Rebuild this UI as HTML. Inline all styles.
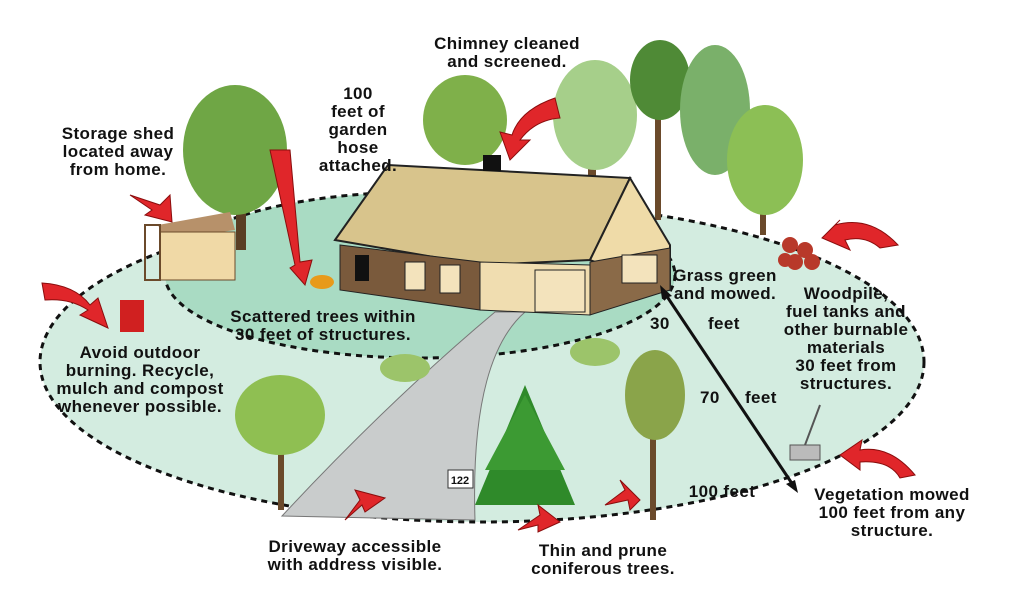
<!DOCTYPE html>
<html><head><meta charset="utf-8"><style>
body{margin:0;background:#fff}
svg{display:block}
text{font-family:"Liberation Sans",sans-serif;font-weight:bold;font-size:17px;letter-spacing:0.4px;fill:#111}
</style></head><body>
<svg width="1024" height="615" viewBox="0 0 1024 615">
<ellipse cx="482" cy="362" rx="442" ry="160" fill="#d3ece0" stroke="#111" stroke-width="3" stroke-dasharray="6,5"/>
<ellipse cx="420" cy="275" rx="255" ry="83" fill="#a9dbc3" stroke="#111" stroke-width="3" stroke-dasharray="6,5"/>
<path d="M495 312 L525 312 Q470 360 475 520 L282 516 Q390 400 495 312Z" fill="#c9cccc" stroke="#777" stroke-width="1"/>
<g>
<rect x="467" y="110" width="8" height="50" fill="#6b4a2b"/>
<ellipse cx="465" cy="120" rx="42" ry="45" fill="#7fb04a"/>
<rect x="588" y="100" width="8" height="80" fill="#6b4a2b"/>
<ellipse cx="595" cy="115" rx="42" ry="55" fill="#a6cf8a"/>
<rect x="655" y="60" width="6" height="160" fill="#6b4a2b"/>
<ellipse cx="660" cy="80" rx="30" ry="40" fill="#4f8a36"/>
<ellipse cx="715" cy="110" rx="35" ry="65" fill="#7ab06a"/>
<rect x="760" y="140" width="6" height="95" fill="#6b4a2b"/>
<ellipse cx="765" cy="160" rx="38" ry="55" fill="#8cbf55"/>
<rect x="236" y="150" width="10" height="100" fill="#5a3e24"/>
<ellipse cx="235" cy="150" rx="52" ry="65" fill="#6fa645"/>
<rect x="650" y="380" width="6" height="140" fill="#6b4a2b"/>
<ellipse cx="655" cy="395" rx="30" ry="45" fill="#8aa44a"/>
<rect x="278" y="420" width="6" height="90" fill="#6b4a2b"/>
<ellipse cx="280" cy="415" rx="45" ry="40" fill="#8fbf52"/>
<ellipse cx="405" cy="368" rx="25" ry="14" fill="#9cc46a"/>
<ellipse cx="595" cy="352" rx="25" ry="14" fill="#9cc46a"/>
<polygon points="525,385 475,505 575,505" fill="#2f8a2a"/>
<polygon points="525,395 485,470 565,470" fill="#3c9a33"/>
</g>
<polygon points="158,225 230,212 235,230 165,240" fill="#b7916a"/>
<rect x="160" y="232" width="75" height="48" fill="#f0d9a6" stroke="#6b4a2b"/>
<rect x="145" y="225" width="15" height="55" fill="none" stroke="#6b4a2b" stroke-width="2"/>
<polygon points="335,240 388,165 630,178 590,260 480,265" fill="#d8c48c" stroke="#222" stroke-width="2"/>
<polygon points="590,260 630,178 670,245 670,290" fill="#efdba8" stroke="#222" stroke-width="2"/>
<rect x="483" y="155" width="18" height="16" fill="#111"/>
<polygon points="340,245 480,262 480,310 340,290" fill="#7a5a3c" stroke="#222"/>
<polygon points="480,262 590,265 590,315 480,310" fill="#f0ddb0" stroke="#222"/>
<polygon points="590,262 670,248 670,290 590,315" fill="#8a6a48" stroke="#222"/>
<rect x="535" y="270" width="50" height="42" fill="#f3e3bc" stroke="#222"/>
<rect x="622" y="255" width="35" height="28" fill="#f3e3bc" stroke="#222"/>
<rect x="355" y="255" width="14" height="26" fill="#111"/>
<rect x="405" y="262" width="20" height="28" fill="#f3e3bc" stroke="#222"/>
<rect x="440" y="265" width="20" height="28" fill="#f3e3bc" stroke="#222"/>
<rect x="120" y="300" width="24" height="32" fill="#d02020"/>
<ellipse cx="322" cy="282" rx="12" ry="7" fill="#e89a1a"/>
<g fill="#b8392a"><circle cx="790" cy="245" r="8"/><circle cx="805" cy="250" r="8"/><circle cx="795" cy="262" r="8"/><circle cx="812" cy="262" r="8"/><circle cx="785" cy="260" r="7"/></g>
<line x1="805" y1="445" x2="820" y2="405" stroke="#555" stroke-width="2"/>
<rect x="790" y="445" width="30" height="15" fill="#bbb" stroke="#555"/>
<line x1="664" y1="292" x2="795" y2="488" stroke="#111" stroke-width="3"/>
<polygon points="660,285 672,296 662,299" fill="#111"/>
<polygon points="798,493 786,484 795,480" fill="#111"/>
<g fill="#e0262a" stroke="#8a0d0d" stroke-width="1">
<path d="M270 150 L290 150 L300 262 L312 260 L305 285 L290 268 L295 265Z"/>
<path d="M555 98 Q520 110 512 135 L500 132 L510 160 L530 140 L520 140 Q535 120 560 118Z"/>
<path d="M130 195 L160 205 L170 195 L172 222 L145 215 L152 210Z"/>
<path d="M42 283 Q75 285 90 305 L98 298 L108 328 L80 315 L88 310 Q70 298 45 300Z"/>
<path d="M835 225 Q870 215 898 245 L880 248 Q865 235 845 240 L850 250 L822 238 L840 220Z"/>
<path d="M915 475 Q890 445 860 450 L862 440 L840 455 L860 470 L860 462 Q890 460 900 478Z"/>
<path d="M345 520 L360 500 L355 490 L385 498 L365 512 L362 505Z"/>
<path d="M518 530 L540 515 L538 505 L560 522 L538 532 L538 525Z"/>
<path d="M605 505 L625 490 L620 480 L640 500 L630 510 L628 500Z"/>
</g>
<text x="507" y="49" text-anchor="middle">Chimney cleaned</text>
<text x="507" y="67" text-anchor="middle">and screened.</text>
<text x="358" y="99" text-anchor="middle">100</text>
<text x="358" y="117" text-anchor="middle">feet of</text>
<text x="358" y="135" text-anchor="middle">garden</text>
<text x="358" y="153" text-anchor="middle">hose</text>
<text x="358" y="171" text-anchor="middle">attached.</text>
<text x="118" y="139" text-anchor="middle">Storage shed</text>
<text x="118" y="157" text-anchor="middle">located away</text>
<text x="118" y="175" text-anchor="middle">from home.</text>
<text x="323" y="322" text-anchor="middle">Scattered trees within</text>
<text x="323" y="340" text-anchor="middle">30 feet of structures.</text>
<text x="140" y="358" text-anchor="middle">Avoid outdoor</text>
<text x="140" y="376" text-anchor="middle">burning. Recycle,</text>
<text x="140" y="394" text-anchor="middle">mulch and compost</text>
<text x="140" y="412" text-anchor="middle">whenever possible.</text>
<text x="725" y="281" text-anchor="middle">Grass green</text>
<text x="725" y="299" text-anchor="middle">and mowed.</text>
<text x="650" y="329">30</text>
<text x="708" y="329">feet</text>
<text x="700" y="403">70</text>
<text x="745" y="403">feet</text>
<text x="846" y="299" text-anchor="middle">Woodpile,</text>
<text x="846" y="317" text-anchor="middle">fuel tanks and</text>
<text x="846" y="335" text-anchor="middle">other burnable</text>
<text x="846" y="353" text-anchor="middle">materials</text>
<text x="846" y="371" text-anchor="middle">30 feet from</text>
<text x="846" y="389" text-anchor="middle">structures.</text>
<text x="722" y="497" text-anchor="middle">100 feet</text>
<text x="892" y="500" text-anchor="middle">Vegetation mowed</text>
<text x="892" y="518" text-anchor="middle">100 feet from any</text>
<text x="892" y="536" text-anchor="middle">structure.</text>
<text x="355" y="552" text-anchor="middle">Driveway accessible</text>
<text x="355" y="570" text-anchor="middle">with address visible.</text>
<text x="603" y="556" text-anchor="middle">Thin and prune</text>
<text x="603" y="574" text-anchor="middle">coniferous trees.</text>
<rect x="448" y="470" width="25" height="18" fill="#fff" stroke="#333"/>
<text x="460" y="484" text-anchor="middle" style="font-size:11px;letter-spacing:0">122</text>
</svg>
</body></html>
